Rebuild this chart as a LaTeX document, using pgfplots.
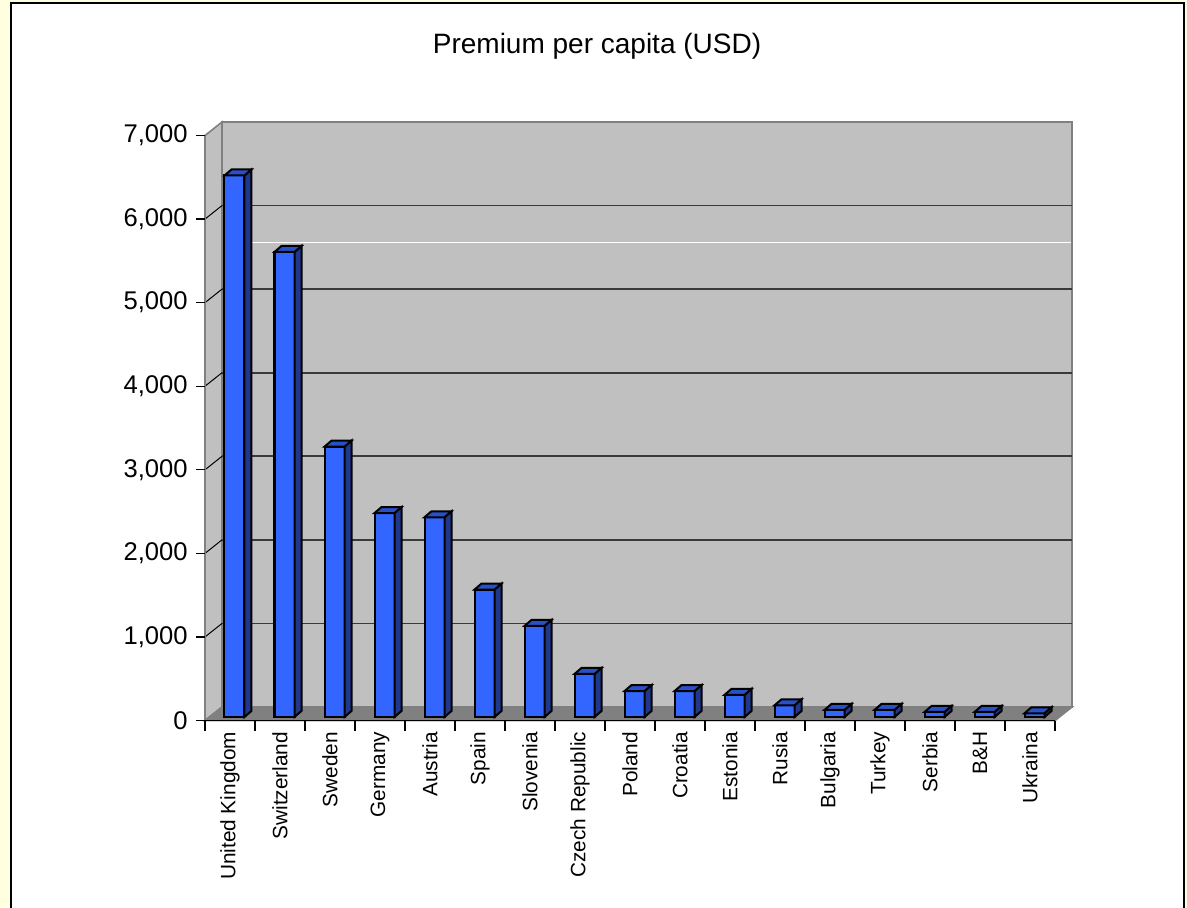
\documentclass[border=0pt]{standalone}
\usepackage{fontspec}
\setmainfont{Liberation Sans}
\usepackage{pgfplots}
\usepackage{pgfplotstable}
\pgfplotsset{compat=1.18}
\definecolor{bgyellow}{HTML}{FFFFE0}
\definecolor{wallc}{HTML}{C0C0C0}
\definecolor{floorc}{HTML}{808080}
\definecolor{edgec}{HTML}{808080}
\definecolor{gridc}{HTML}{3A3A3A}
\definecolor{barfront}{HTML}{3366FF}
\definecolor{barside}{HTML}{20388C}
\definecolor{bartop}{HTML}{2850C8}

\pgfdeclareplotmark{bar3d}{%
  \pgfmathsetlengthmacro\barh{\myval*0.0417857pt}%
  \pgfpathmoveto{\pgfqpoint{5pt}{0pt}}%
  \pgfpathlineto{\pgfqpoint{8.5pt}{3pt}}%
  \pgfpathlineto{\pgfpoint{8.5pt}{3pt-\barh}}%
  \pgfpathlineto{\pgfpoint{5pt}{-\barh}}%
  \pgfpathclose
  \pgfsetfillcolor{barside}%
  \pgfusepath{fill,stroke}%
  \pgfpathmoveto{\pgfqpoint{-5pt}{0pt}}%
  \pgfpathlineto{\pgfqpoint{5pt}{0pt}}%
  \pgfpathlineto{\pgfqpoint{8.5pt}{3pt}}%
  \pgfpathlineto{\pgfqpoint{-1.5pt}{3pt}}%
  \pgfpathclose
  \pgfsetfillcolor{bartop}%
  \pgfusepath{fill,stroke}%
}

\pgfplotstableread{
idx value
0 6480
1 5565
2 3235
3 2440
4 2390
5 1525
6 1090
7 515
8 310
9 310
10 265
11 140
12 85
13 85
14 60
15 60
16 45
}\premium

\begin{document}
\begin{tikzpicture}
% page = 1187 x 907 px, 1px = 0.5pt, origin at pixel (205,720.5)
\path[use as bounding box] (-102.5pt,-93.25pt) rectangle (491pt,360.25pt);
\fill[bgyellow] (-102.5pt,-93.25pt) rectangle (491pt,360.25pt);
\filldraw[fill=white, draw=black, line width=1pt] (-96.75pt,-120pt) rectangle (489.5pt,358.5pt);
% 3-D walls and floor
\filldraw[fill=wallc, draw=edgec, line width=0.8pt] (8.5pt,6.75pt) rectangle (433.5pt,299.25pt);
\filldraw[fill=wallc, draw=edgec, line width=0.8pt] (0pt,0pt) -- (8.5pt,6.75pt) -- (8.5pt,299.25pt) -- (0pt,292.5pt) -- cycle;
\filldraw[fill=floorc, draw=edgec, line width=0.8pt] (0pt,0pt) -- (425pt,0pt) -- (433.5pt,6.75pt) -- (8.5pt,6.75pt) -- cycle;
\foreach \v in {1,...,6} {
  \pgfmathsetmacro\yy{\v*41.7857}
  \draw[gridc, line width=0.8pt] (8.5pt,\yy pt+6.75pt) -- (433.5pt,\yy pt+6.75pt);
  \draw[black, line width=0.5pt] (0pt,\yy pt) -- (8.5pt,\yy pt+6.75pt);
}
\draw[white, line width=0.7pt] (23pt,239.1pt) -- (433.1pt,239.1pt);
\draw[edgec, line width=0.8pt] (0pt,0pt) -- (0pt,292.5pt);
\draw[black, line width=0.8pt] (0pt,0pt) -- (425pt,0pt);
\begin{axis}[
  scale only axis,
  width=425pt, height=292.5pt,
  xmin=-0.5, xmax=16.5, ymin=0, ymax=7000,
  clip=false,
  axis x line*=bottom, axis y line*=left,
  axis line style={draw=none},
  tick align=outside,
  major tick length=4.5pt,
  minor tick length=5pt,
  xtick={0,...,16},
  xticklabels={United Kingdom,Switzerland,Sweden,Germany,Austria,Spain,Slovenia,Czech Republic,Poland,Croatia,Estonia,Rusia,Bulgaria,Turkey,Serbia,B\&H,Ukraina},
  minor xtick={-0.5,0.5,...,16.5},
  major x tick style={draw=none},
  minor x tick style={black, line width=0.6pt},
  ytick={0,1000,...,7000},
  y tick style={black, line width=0.6pt},
  scaled y ticks=false,
  /pgf/number format/assume math mode=true,
  /pgf/number format/1000 sep={,},
  yticklabel style={font=\fontsize{12.8}{15}\selectfont, inner sep=1pt, xshift=-3pt},
  xticklabel style={font=\fontsize{10.4}{12}\selectfont, rotate=90, anchor=east, inner sep=1pt},
  title={Premium per capita (USD)},
  title style={font=\fontsize{14}{16}\selectfont, at={(axis description cs:0.4612,1.1405)}, anchor=base, yshift=-6pt},
]
\addplot[ybar, bar width=10pt, fill=barfront, draw=black, line width=1pt,
  xshift=2.25pt, yshift=1.75pt] table[x=idx, y=value] {\premium};
\addplot[only marks, scatter, mark=bar3d, draw=black,
  mark options={draw=black, line width=1pt, solid},
  scatter/@pre marker code/.code={}, scatter/@post marker code/.code={},
  visualization depends on={rawy \as \myval},
  xshift=2.25pt, yshift=1.75pt] table[x=idx, y=value] {\premium};
\end{axis}
\end{tikzpicture}
\end{document}
